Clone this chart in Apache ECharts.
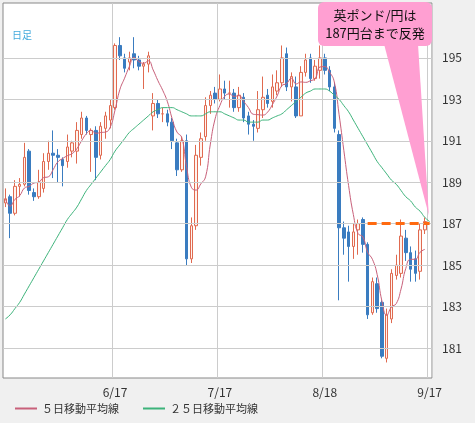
<!DOCTYPE html>
<html><head><meta charset="utf-8">
<script src="https://cdn.jsdelivr.net/npm/echarts@6/dist/echarts.min.js"></script>
<style>html,body{margin:0;padding:0;background:#f0f0f0}#c{width:475px;height:423px}</style>
</head><body><div id="c"></div>
<script>
// weekday dates 2015-05-15 .. 2015-09-17
const startDate = '2015-05-15', endDate = '2015-09-17';
const tickDates = ['6/17','7/17','8/18','9/17'];
const yTicks = [181,183,185,187,189,191,193,195];
// [open, close, low, high]
const ohlc = [
[188.0,188.2,187.8,188.7],[188.3,187.5,186.3,188.4],[187.5,188.8,187.4,189.1],[188.8,188.9,188.3,189.2],
[188.9,190.2,188.8,190.9],[190.5,188.6,188.4,190.6],[188.5,188.3,188.1,188.7],[188.3,189.0,188.2,189.6],
[188.7,190.0,188.5,190.4],[190.0,190.4,189.6,191.0],[190.4,190.3,189.2,191.5],[190.3,190.2,189.0,190.6],
[190.1,189.8,188.8,190.2],[190.0,190.7,189.7,191.3],[190.5,190.9,190.2,191.0],[190.5,191.5,189.9,191.9],
[191.3,192.1,191.1,192.4],[192.1,191.5,191.3,192.2],[191.3,191.5,189.5,191.6],[191.5,190.2,189.1,191.7],
[190.3,191.7,190.1,191.9],[191.6,192.2,191.1,192.4],[192.0,192.7,191.6,193.0],[192.6,195.6,192.5,195.7],
[195.6,195.1,194.9,196.0],[195.0,194.5,194.3,195.2],[194.8,195.0,194.4,195.3],[195.2,194.9,194.5,196.0],
[194.9,194.6,194.4,195.1],[194.6,194.7,193.5,194.8],[194.7,195.1,194.3,195.3],[192.2,192.8,191.5,193.3],
[192.8,192.3,192.1,193.0],[192.3,192.3,191.9,192.6],[192.3,191.9,191.7,192.5],[191.9,191.0,190.6,192.1],
[190.9,189.6,189.3,191.1],[189.6,191.0,189.5,191.2],[191.0,185.3,185.0,191.3],[185.3,186.9,185.1,187.3],
[186.9,190.3,186.7,190.8],[190.2,191.1,189.8,191.4],[191.2,192.7,191.0,193.1],[192.7,193.2,192.3,193.4],
[193.3,193.0,192.8,193.6],[193.0,193.5,192.9,194.2],[193.5,193.3,193.0,193.9],[193.3,193.3,192.6,193.9],
[193.3,192.6,192.4,193.5],[192.6,193.2,192.4,193.6],[193.1,192.1,191.9,193.3],[192.2,191.8,191.3,192.4],
[191.8,191.7,191.0,192.0],[191.6,192.5,191.4,193.4],[192.5,193.1,192.1,194.1],[193.2,192.8,192.6,193.5],
[192.9,193.6,192.6,194.2],[193.4,193.8,193.2,194.4],[193.8,195.0,193.6,195.6],[195.2,193.6,193.4,195.5],
[193.6,194.1,192.9,194.3],[193.6,192.2,192.1,194.1],[192.2,194.3,192.2,194.6],[194.3,194.9,194.1,195.2],
[195.0,194.0,193.8,195.2],[194.0,194.6,193.9,194.9],[194.4,195.0,194.0,195.6],[195.0,194.4,194.2,195.2],
[194.4,193.6,193.4,194.6],[193.6,191.6,191.4,193.8],[191.3,186.8,183.3,191.5],[186.8,186.3,185.5,187.1],
[186.6,185.9,184.2,186.9],[185.9,186.6,185.3,187.0],[186.7,187.0,185.5,187.2],[187.2,186.0,185.6,187.3],
[186.0,182.6,182.4,186.1],[182.7,184.2,182.6,184.4],[184.1,182.9,182.7,184.4],[183.2,180.6,180.5,183.3],
[180.5,182.6,180.3,182.9],[182.4,184.6,182.2,184.8],[184.5,185.0,184.3,185.5],[184.6,186.4,184.4,187.2],
[186.3,185.6,185.2,186.7],[185.6,184.8,184.2,185.9],[185.3,184.6,184.2,185.7],[184.7,186.7,184.3,187.0],
[186.7,187.1,186.5,187.3]
];
const ma25 = [
182.4,182.6,182.9,183.2,183.6,184.0,184.4,184.8,185.2,185.6,
186.0,186.4,186.8,187.2,187.5,187.8,188.2,188.6,188.9,189.2,
189.5,189.8,190.1,190.5,190.8,191.1,191.4,191.6,191.8,192.0,
192.2,192.4,192.5,192.6,192.6,192.6,192.5,192.4,192.3,192.2,
192.2,192.2,192.3,192.4,192.4,192.4,192.3,192.2,192.1,192.0,
192.0,191.9,191.9,191.9,192.0,192.0,192.1,192.2,192.3,192.5,
192.7,192.9,193.1,193.3,193.4,193.5,193.5,193.5,193.4,193.2,
193.0,192.7,192.4,192.0,191.6,191.2,190.8,190.4,190.0,189.7,
189.4,189.1,188.9,188.6,188.3,188.1,187.8,187.6,187.3,187.1
];
const calloutText = '英ポンド/円は\n187円台まで反発';
const targetLevel = 187;

const cats = [];
for (let d = new Date(startDate+'T00:00:00Z'); d <= new Date(endDate+'T00:00:00Z'); d.setUTCDate(d.getUTCDate()+1)) {
  const w = d.getUTCDay(); if (w===0||w===6) continue;
  cats.push((d.getUTCMonth()+1)+'/'+d.getUTCDate());
}
const closes = ohlc.map(r=>r[1]);
const ma5 = closes.map((c,i)=>{const s=closes.slice(Math.max(0,i-4),i+1);return +(s.reduce((a,b)=>a+b,0)/s.length).toFixed(2);});
const tickIdx = tickDates.map(t=>cats.indexOf(t));
const font = '"Noto Sans CJK JP", sans-serif';

const chart = echarts.init(document.getElementById('c'));
chart.setOption({
  animation:false,
  backgroundColor:'#f0f0f0',
  grid:{left:3,right:43,top:3,bottom:45,show:true,backgroundColor:'#fff',borderColor:'#888',borderWidth:1},
  legend:{left:10,top:398,itemWidth:22,itemHeight:2,itemGap:24,icon:'rect',
    textStyle:{fontFamily:font,fontSize:11,color:'#333'},
    data:['５日移動平均線','２５日移動平均線']},
  xAxis:{type:'category',data:cats,boundaryGap:true,
    axisLine:{show:false},axisTick:{show:false},
    axisLabel:{interval:(i)=>tickIdx.includes(i),fontFamily:font,fontSize:12,color:'#333',margin:8},
    splitLine:{show:true,interval:(i)=>tickIdx.includes(i),lineStyle:{color:'#ccc'}}},
  yAxis:{type:'value',position:'right',min:179.55,max:197.65,scale:true,
    axisLine:{show:false},axisTick:{show:false},splitLine:{show:false},
    axisLabel:{customValues:yTicks,fontFamily:font,fontSize:12,color:'#333',margin:10}},
  series:[
    {type:'line',data:[],silent:true,markLine:{symbol:'none',silent:true,label:{show:false},
      lineStyle:{color:'#ccc',type:'solid',width:1},data:yTicks.map(v=>({yAxis:v}))}},
    {type:'candlestick',data:ohlc.map(r=>[r[0],r[1],r[2],r[3]]),barWidth:3,
      itemStyle:{color:'#fff3ee',color0:'#3a7cc0',borderColor:'#e06a50',borderColor0:'#3a7cc0',borderWidth:1},
      markLine:{symbol:'none',silent:true,label:{show:false},lineStyle:{color:'#ff6a10',type:[9,5],width:3},
        data:[[{coord:[76,targetLevel]},{coord:[89,targetLevel]}]]}},
    {name:'５日移動平均線',type:'line',data:ma5,symbol:'none',smooth:true,lineStyle:{width:1,color:'#c8607a'},itemStyle:{color:'#c8607a'}},
    {name:'２５日移動平均線',type:'line',data:ma25,symbol:'none',smooth:true,lineStyle:{width:1,color:'#3cb37a'},itemStyle:{color:'#3cb37a'}}
  ]
});
const tip = chart.convertToPixel({xAxisIndex:0,yAxisIndex:0},[88,targetLevel+0.4]);
chart.setOption({graphic:[
  {type:'text',left:12,top:30,style:{text:'日足',fill:'#44aadd',font:'10px '+font}},
  {type:'polygon',shape:{points:[[384,44],[418,44],[tip[0]+4,tip[1]]]},style:{fill:'#ff9fd2'},z:10},
  {type:'rect',shape:{x:318,y:2,width:114,height:44,r:6},style:{fill:'#ff9fd2'},z:10},
  {type:'text',x:375,y:24,style:{text:calloutText,fill:'#111',font:'13px '+font,align:'center',verticalAlign:'middle',lineHeight:18},z:11}
]});
</script></body></html>
